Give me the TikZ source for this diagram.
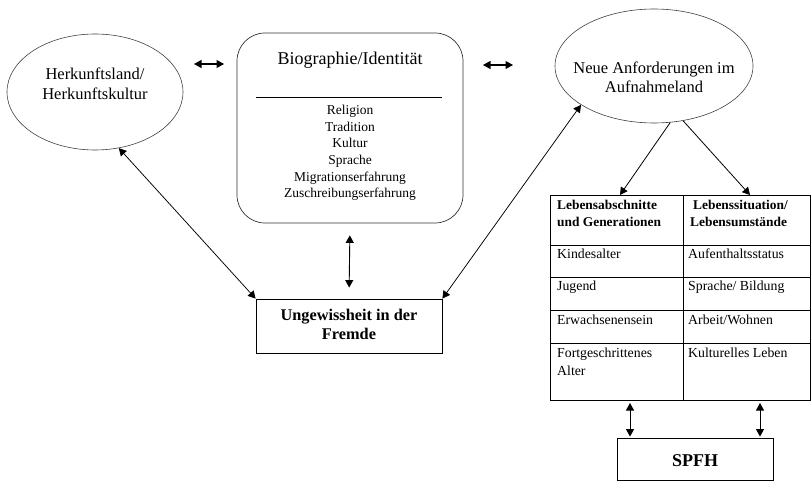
\documentclass[tikz,border=0pt]{standalone}
\usepackage{fontspec}
\setmainfont{Liberation Serif}
\usetikzlibrary{shapes.geometric,arrows.meta,calc}
\begin{document}
\begin{tikzpicture}[x=1pt,y=-1pt,
  ell/.style={draw=black!75, ellipse, line width=0.6pt, inner sep=0pt},
  boxx/.style={draw, line width=0.8pt, inner sep=0pt},
  tipb/.style={{Triangle[length=7.5pt,width=8pt]}-{Triangle[length=7.5pt,width=8pt]}, line width=0.75pt},
  tipe/.style={-{Triangle[length=7.5pt,width=8pt]}, line width=0.8pt},
  big/.style={font=\fontsize{16.5}{19.5}\selectfont, align=center, inner sep=0pt},
  title/.style={font=\fontsize{18}{21}\selectfont, inner sep=0pt},
  lst/.style={font=\fontsize{13.5}{16.6}\selectfont, align=center, inner sep=0pt},
  cell/.style={font=\fontsize{13.8}{18}\selectfont, align=left, inner sep=0pt, anchor=west},
  hcell/.style={font=\bfseries\fontsize{13.4}{17}\selectfont, align=left, inner sep=0pt, anchor=west},
  bbig/.style={font=\bfseries\fontsize{16.3}{19}\selectfont, align=center, inner sep=0pt}]
\useasboundingbox (0,0) rectangle (811,481);

% left ellipse
\node[ell, minimum width=176pt, minimum height=116pt] (L) at (95,92) {};
\node[big] (Lt) at (95,84) {Herkunftsland/\\Herkunftskultur};

% biography box
\node[boxx, draw=black!80, line width=0.7pt, rounded corners=28pt, minimum width=226pt, minimum height=190pt] (B) at (350,128) {};
\node[title] (Bt) at (350,60) {Biographie/Identität};
\coordinate (bl1) at (256,97);
\coordinate (bl2) at (442,97);
\draw[line width=0.7pt] (bl1) -- (bl2);
\node[lst] (Bl) at (350,153) {Religion\\Tradition\\Kultur\\Sprache\\Migrationserfahrung\\Zuschreibungserfahrung};

% right ellipse
\node[ell, minimum width=198pt, minimum height=114pt] (R) at (654,66) {};
\node[big] (Rt) at (654,77.5) {Neue Anforderungen im\\Aufnahmeland};

% small double arrows
\coordinate (a1) at (194,64);
\coordinate (a2) at (224,64);
\draw[tipb, line width=1.1pt] (a1) -- (a2);
\coordinate (a3) at (483,65);
\coordinate (a4) at (513,65);
\draw[tipb, line width=1.1pt] (a3) -- (a4);

% Ungewissheit box
\node[boxx, minimum width=186pt, minimum height=54pt] (U) at (349,326) {};
\node[bbig] (Ut) at (349,324.5) {Ungewissheit in der\\Fremde};

\draw[tipb] (L.-67) -- (U.north west);
\draw[tipb] (R.208) -- (U.north east);
\draw[tipb, line width=0.9pt, shorten <=12pt, shorten >=11pt] (B.south) -- (U.north);

% table
\node[boxx, minimum width=260pt, minimum height=205pt] (T) at (680,297.5) {};
\coordinate (c1) at (683,195);
\coordinate (c2) at (683,400);
\draw[line width=0.8pt] (c1) -- (c2);
\foreach \yy [count=\i] in {245,277,310,343}{
  \coordinate (rl\i) at (550,\yy);
  \coordinate (rr\i) at (810,\yy);
  \draw[line width=0.8pt] (rl\i) -- (rr\i);
}
\coordinate (t1) at (620,195);
\coordinate (t2) at (750,195);
\draw[tipe] (R.-74) -- (t1);
\draw[tipe] (R.-62) -- (t2);

\node[hcell] (h1) at (557,213.5) {Lebensabschnitte\\und Generationen};
\node[hcell] (h2) at (690,213.5) {\hspace*{3pt}Lebenssituation/\\Lebensumstände};
\node[cell] (k1) at (557,254) {Kindesalter};
\node[cell] (k2) at (688,254) {Aufenthaltsstatus};
\node[cell] (j1) at (557,287) {Jugend};
\node[cell] (j2) at (688,287) {Sprache/ Bildung};
\node[cell] (e1) at (557,320) {Erwachsenensein};
\node[cell] (e2) at (688,320) {Arbeit/Wohnen};
\node[cell] (f1) at (557,362) {Fortgeschrittenes\\Alter};
\node[cell] (f2) at (688,353) {Kulturelles Leben};

% SPFH
\node[boxx, minimum width=156pt, minimum height=42pt] (S) at (695,459) {};
\node[font=\bfseries\fontsize{18}{21}\selectfont, inner sep=0pt] (St) at (695,461) {SPFH};
\coordinate (s1) at (630,400);
\coordinate (s2) at (760,400);
\draw[tipb, line width=0.9pt, shorten <=3pt, shorten >=1pt] (s1) -- (s1 |- S.north);
\draw[tipb, line width=0.9pt, shorten <=3pt, shorten >=1pt] (s2) -- (s2 |- S.north);
\end{tikzpicture}
\end{document}
